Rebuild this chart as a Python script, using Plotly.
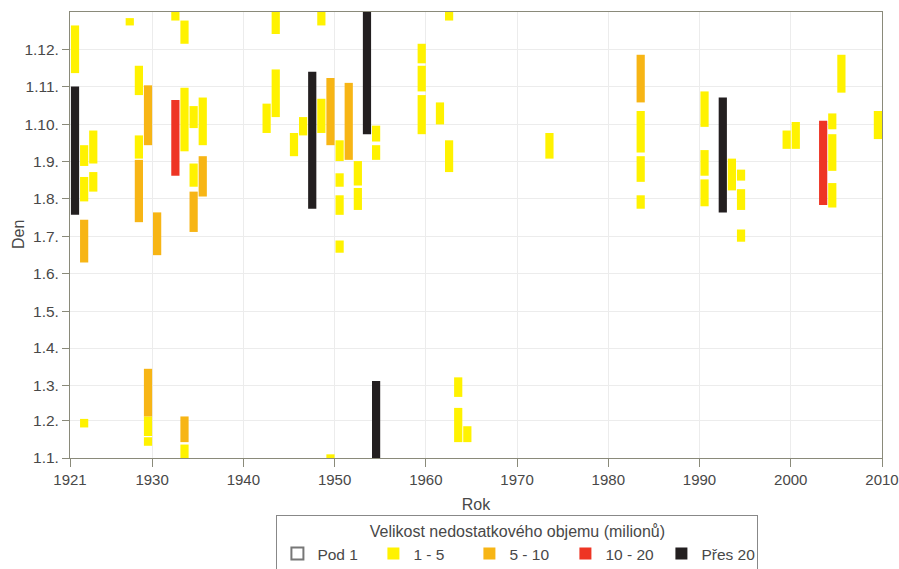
import plotly.graph_objects as go

# Day-of-year tick positions (1st of each month) and Czech labels
month_days = [0, 31, 59, 90, 120, 151, 181, 212, 243, 273, 304, 334]
month_labels = ["1.1.", "1.2.", "1.3.", "1.4.", "1.5.", "1.6.", "1.7.", "1.8.", "1.9.", "1.10.", "1.11.", "1.12."]
year_ticks = [1921, 1930, 1940, 1950, 1960, 1970, 1980, 1990, 2000, 2010]

# 1 - 5 mil.
y15_years = [1921, 1922, 1922, 1922, 1923, 1923, 1927, 1928, 1928, 1929, 1929, 1932, 1933, 1933, 1933,
             1934, 1934, 1935, 1942, 1943, 1943, 1945, 1946, 1948, 1948, 1949, 1950, 1950, 1950, 1950,
             1952, 1952, 1954, 1954, 1959, 1959, 1959, 1961, 1962, 1962, 1963, 1963, 1964, 1973,
             1983, 1983, 1983, 1990, 1990, 1990, 1993, 1994, 1994, 1994, 1999, 2000, 2004, 2004, 2004,
             2005, 2009]
y15_start = [315, 239, 210, 25, 241, 218, 354, 297, 245, 18, 10, 358, 339, 251, 0,
             270, 222, 256, 266, 347, 279, 247, 264, 354, 266, 0, 243, 222, 199, 168,
             223, 203, 259, 244, 323, 300, 265, 273, 358, 234, 50, 13, 13, 245,
             250, 226, 204, 271, 231, 206, 219, 227, 203, 177, 253, 253, 269, 235, 205,
             299, 261]
y15_end = [354, 256, 230, 32, 268, 234, 360, 321, 264, 34, 17, 365, 358, 303, 11,
           288, 241, 295, 290, 365, 318, 266, 279, 365, 294, 3, 260, 233, 215, 178,
           243, 221, 272, 256, 339, 321, 297, 291, 365, 260, 66, 41, 26, 266,
           284, 247, 215, 300, 252, 228, 245, 236, 220, 187, 268, 275, 282, 265, 225,
           330, 284]

# 5 - 10 mil.
y510_years = [1922, 1928, 1929, 1929, 1930, 1933, 1934, 1935, 1949, 1951, 1983]
y510_start = [160, 193, 256, 34, 166, 13, 185, 214, 256, 244, 291]
y510_end = [195, 244, 305, 73, 201, 34, 218, 247, 311, 307, 330]

# 10 - 20 mil.
y1020_years = [1932, 2003]
y1020_start = [231, 207]
y1020_end = [293, 276]

# Přes 20 mil.
y20_years = [1921, 1947, 1953, 1954, 1992]
y20_start = [199, 204, 265, 0, 201]
y20_end = [304, 316, 365, 63, 295]

fig = go.Figure()

fig.add_trace(go.Bar(x=[None], y=[None], name="Pod 1",
                     marker=dict(color="white", line=dict(color="#777777", width=1))))

def add_cat(name, years, starts, ends, color):
    fig.add_trace(go.Bar(
        x=[y + 0.55 for y in years],
        base=starts,
        y=[e - s for s, e in zip(starts, ends)],
        width=0.9,
        name=name,
        marker=dict(color=color, line=dict(width=0)),
        hoverinfo="skip",
    ))

add_cat("1 - 5", y15_years, y15_start, y15_end, "#FFF200")
add_cat("5 - 10", y510_years, y510_start, y510_end, "#F7B515")
add_cat("10 - 20", y1020_years, y1020_start, y1020_end, "#EE3524")
add_cat("Přes 20", y20_years, y20_start, y20_end, "#231F20")

axis_col = "#8a8a7a"
font_col = "#484848"
fam = "Liberation Sans, Arial, sans-serif"

fig.update_layout(
    width=899, height=569,
    margin=dict(l=70, r=17, t=12, b=111, autoexpand=False),
    paper_bgcolor="white", plot_bgcolor="white",
    barmode="overlay",
    font=dict(family=fam, size=15, color=font_col),
    showlegend=True,
    legend=dict(
        orientation="h",
        x=0.551, xanchor="center",
        y=-0.128, yanchor="top",
        bordercolor="#888888", borderwidth=1,
        bgcolor="white",
        title=dict(text="Velikost nedostatkového objemu (milionů)", side="top center",
                   font=dict(size=16, color=font_col)),
        font=dict(size=15.5, color=font_col),
        entrywidth=51, entrywidthmode="pixels",
        itemsizing="constant",
        tracegroupgap=0,
    ),
    xaxis=dict(
        range=[1921, 2010],
        tickmode="array", tickvals=year_ticks, ticktext=[str(v) for v in year_ticks],
        tickfont=dict(size=15, color=font_col),
        ticklabeloverflow="allow",
        showgrid=True, gridcolor="#ececec", gridwidth=1,
        showline=True, linecolor=axis_col, linewidth=1, mirror=True,
        ticks="outside", ticklen=8, tickcolor=axis_col,
        zeroline=False,
        title=dict(text="Rok", font=dict(size=16, color=font_col), standoff=11),
    ),
    yaxis=dict(
        range=[0, 365],
        tickmode="array", tickvals=month_days, ticktext=month_labels,
        tickfont=dict(size=15.5, color=font_col),
        ticklabeloverflow="allow",
        showgrid=True, gridcolor="#ececec", gridwidth=1,
        showline=True, linecolor=axis_col, linewidth=1, mirror=True,
        ticks="outside", ticklen=7, tickcolor=axis_col,
        zeroline=False,
    ),
    annotations=[dict(
        text="Den", textangle=-90, showarrow=False,
        xref="paper", yref="paper", x=-0.064, y=0.5,
        xanchor="center", yanchor="middle",
        font=dict(size=16, color=font_col),
    )],
)

fig.write_html("out.html",
               config={"displayModeBar": False},
               post_script="document.body.style.margin='0';document.body.style.overflow='hidden';")
